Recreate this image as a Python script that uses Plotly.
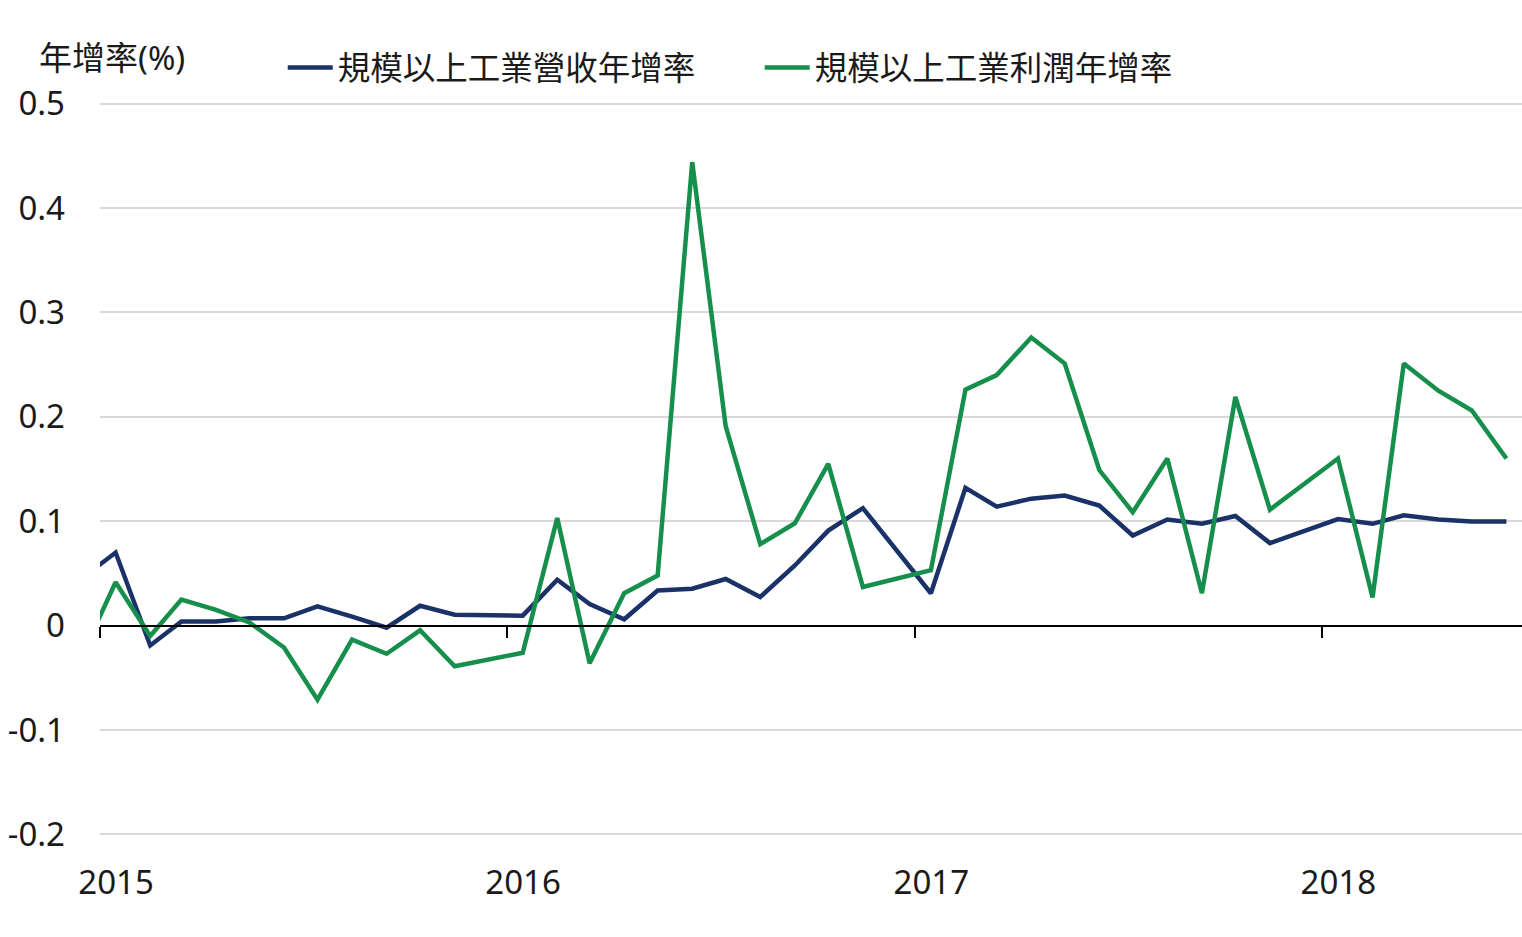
import plotly.graph_objects as go

# ---- data ----
dates = [
    "2014-11-15",
    "2015-01-15", "2015-02-15", "2015-03-15", "2015-04-15", "2015-05-15", "2015-06-15",
    "2015-07-15", "2015-08-15", "2015-09-15", "2015-10-15", "2015-11-15",
    "2016-01-15", "2016-02-15", "2016-03-15", "2016-04-15", "2016-05-15", "2016-06-15",
    "2016-07-15", "2016-08-15", "2016-09-15", "2016-10-15", "2016-11-15",
    "2017-01-15", "2017-02-15", "2017-03-15", "2017-04-15", "2017-05-15", "2017-06-15",
    "2017-07-15", "2017-08-15", "2017-09-15", "2017-10-15", "2017-11-15",
    "2018-01-15", "2018-02-15", "2018-03-15", "2018-04-15", "2018-05-15", "2018-06-15",
]

revenue_yoy = [
    0.020,
    0.070, -0.019, 0.004, 0.004, 0.007, 0.007, 0.0185, 0.0085, -0.002, 0.019, 0.0105,
    0.0095, 0.044, 0.0206, 0.006, 0.0336, 0.0353, 0.0446, 0.0274, 0.0576, 0.091, 0.1125,
    0.031, 0.132, 0.114, 0.1216, 0.1245, 0.115, 0.0863, 0.1016, 0.0976, 0.105, 0.079,
    0.102, 0.0975, 0.1057, 0.1016, 0.0997, 0.0997,
]

profit_yoy = [
    -0.100,
    0.0415, -0.010, 0.025, 0.015, 0.003, -0.021, -0.071, -0.0134, -0.027, -0.0045, -0.039,
    -0.026, 0.103, -0.036, 0.031, 0.048, 0.444, 0.191, 0.078, 0.098, 0.155, 0.037,
    0.053, 0.226, 0.240, 0.276, 0.251, 0.149, 0.1086, 0.160, 0.031, 0.219, 0.111,
    0.160, 0.027, 0.251, 0.225, 0.206, 0.160,
]

series_names = ["規模以上工業營收年增率", "規模以上工業利潤年增率"]
y_title = "年增率(%)"

x_tickvals = ["2015-01-01", "2016-01-01", "2017-01-01", "2018-01-01"]
x_ticktext = ["2015", "2016", "2017", "2018"]
y_tickvals = [-0.2, -0.1, 0, 0.1, 0.2, 0.3, 0.4, 0.5]
y_ticktext = ["-0.2", "-0.1", "0", "0.1", "0.2", "0.3", "0.4", "0.5"]

# ---- style ----
BLUE = "#1a3268"
GREEN = "#178f4c"
FONT = "Noto Sans, Noto Sans CJK TC, sans-serif"
Y_RANGE = [-0.2025, 0.5025]

fig = go.Figure()
fig.add_trace(go.Scatter(x=dates, y=revenue_yoy, mode="lines", name=series_names[0],
                         line=dict(color=BLUE, width=4.5)))
fig.add_trace(go.Scatter(x=dates, y=profit_yoy, mode="lines", name=series_names[1],
                         line=dict(color=GREEN, width=4.5)))

zero_pos = (0 - Y_RANGE[0]) / (Y_RANGE[1] - Y_RANGE[0])

fig.update_layout(
    width=1522, height=937,
    margin=dict(l=100, r=0, t=101, b=100),
    paper_bgcolor="white", plot_bgcolor="white",
    font=dict(family=FONT, size=33, color="#1a1a1a"),
    showlegend=True,
    legend=dict(orientation="h", x=0.1285, xanchor="left", y=1.045, yanchor="middle",
                font=dict(size=32.5, family=FONT), bgcolor="rgba(0,0,0,0)",
                itemwidth=45,
                entrywidth=417, entrywidthmode="pixels"),
    xaxis=dict(
        type="date", range=["2015-01-01", "2018-06-29"],
        anchor="free", position=zero_pos,
        showgrid=False, zeroline=False,
        showline=True, linecolor="black", linewidth=2,
        ticks="outside", ticklen=11, tickwidth=2, tickcolor="black",
        tickvals=x_tickvals, ticktext=x_ticktext,
        ticklabelstandoff=217, ticklabelshift=16,
        tickfont=dict(size=33, family=FONT, color="#1a1a1a"),
    ),
    yaxis=dict(
        range=Y_RANGE, showgrid=True, gridcolor="#d9d9d9", gridwidth=2,
        zeroline=False, showline=False, ticks="",
        tickvals=y_tickvals, ticktext=y_ticktext,
        ticklabelstandoff=34,
        tickfont=dict(size=33, family=FONT, color="#1a1a1a"),
    ),
    annotations=[dict(text=y_title, xref="paper", yref="paper",
                      x=(37 - 100) / 1422, y=(837 - 57) / 736,
                      xanchor="left", yanchor="middle", showarrow=False,
                      font=dict(size=33, family=FONT, color="#1a1a1a"))],
)

fig.write_html("out.html", config={"displayModeBar": False},
               post_script="document.body.style.margin='0';")
